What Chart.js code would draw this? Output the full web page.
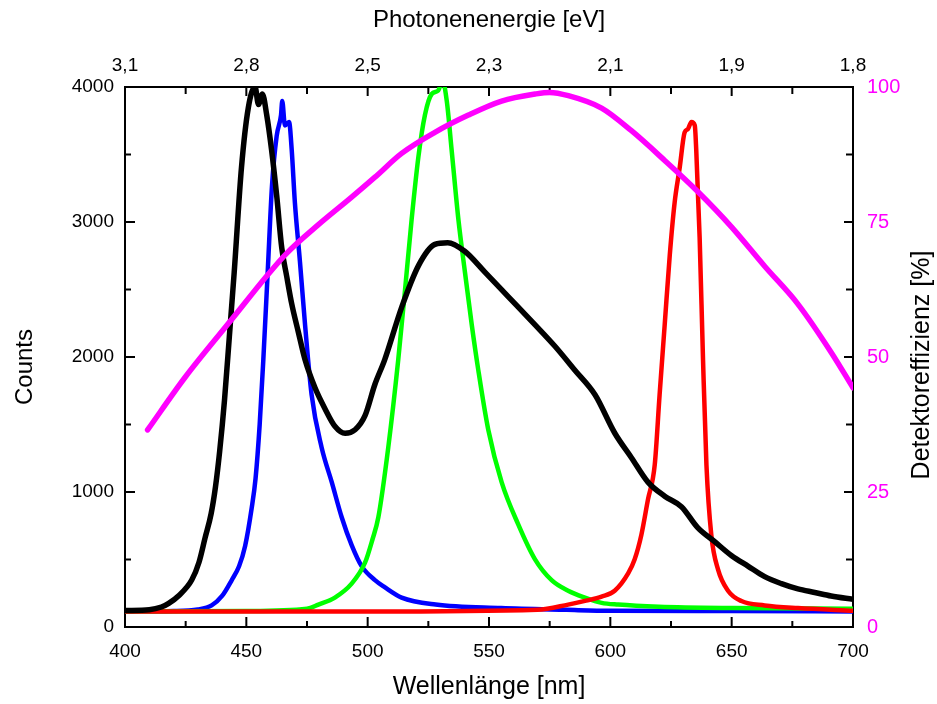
<!DOCTYPE html>
<html>
<head>
<meta charset="utf-8">
<script src="https://cdn.jsdelivr.net/npm/chart.js@4.4.1/dist/chart.umd.min.js"></script>
<style>
  body { margin: 0; background: #fff; }
  #wrap { width: 937px; height: 704px; }
</style>
</head>
<body>
<div id="wrap"><canvas id="specChart" width="937" height="704"></canvas></div>
<script>
// =========================
// DATA
// =========================
const blackNm = [400, 410, 415, 418, 422, 427.5, 430.5, 433, 435.5, 437.3, 439, 441, 443, 445, 448, 450.8, 453.6, 455, 456.6, 458.4, 460.4, 462.5, 464.6, 466.6, 468.7, 471.4, 474.2, 478.3, 482.4, 486.5, 490.7, 494.8, 498.9, 503, 507, 514, 521, 527.7, 533, 540, 548.4, 558, 569, 577, 585.4, 593.7, 601.8, 608.7, 615.5, 622.4, 629.3, 636, 643, 650, 656.7, 663.6, 670.5, 677.3, 684.2, 691, 700];
const blackCounts = [122, 128, 148, 175, 230, 348, 480, 660, 840, 1040, 1300, 1680, 2150, 2627, 3404, 3845, 4000, 3870, 3948, 3793, 3534, 3197, 2808, 2601, 2394, 2187, 1979, 1772, 1617, 1487, 1435, 1461, 1565, 1798, 1979, 2368, 2679, 2834, 2847, 2783, 2627, 2446, 2238, 2083, 1902, 1720, 1437, 1254, 1073, 969, 891, 736, 632, 528, 451, 373, 321, 282, 256, 230, 205];

const blueNm = [400, 420, 430, 435.7, 440, 444, 447, 449.5, 452.2, 453.8, 455.5, 457, 458.8, 460.6, 462.5, 464.3, 464.8, 465.9, 467.6, 468.7, 470, 472.1, 474.2, 476.9, 481, 485.2, 489.3, 493.4, 497.5, 503, 507, 514, 528, 555, 582, 600, 650, 700];
const blueCounts = [115, 118, 130, 160, 230, 348, 450, 600, 880, 1100, 1500, 1979, 2627, 3275, 3637, 3793, 3896, 3715, 3741, 3534, 3145, 2705, 2238, 1720, 1332, 1073, 813, 606, 451, 347, 295, 218, 166, 140, 127, 120, 118, 115];

const greenNm = [400, 450, 475, 479.7, 486.5, 493.4, 498.9, 502, 504.4, 508.5, 512.6, 515.4, 518.1, 520.9, 523.6, 526.4, 529.1, 530.8, 532.6, 534.6, 537.4, 540.1, 542.9, 545.6, 549.7, 555.2, 562, 568.9, 575.8, 582.6, 589.5, 596.4, 603.2, 620, 650, 700];
const greenCounts = [115, 118, 135, 166, 218, 321, 476, 650, 813, 1332, 1979, 2497, 3016, 3482, 3793, 3948, 3974, 4050, 3896, 3534, 3016, 2627, 2238, 1902, 1461, 1073, 762, 503, 347, 269, 218, 179, 166, 150, 140, 135];

const redNm = [400, 500, 570, 582.6, 590, 596.4, 601.8, 607.4, 610, 612.8, 615.5, 618.3, 620.3, 622.4, 624.5, 626.5, 628.6, 630.6, 632, 633.4, 634.8, 635.4, 636.8, 638.2, 639.6, 641.6, 644.4, 648.5, 654, 663.6, 677.3, 700];
const redCounts = [115, 115, 128, 166, 195, 225, 269, 399, 500, 684, 943, 1202, 1720, 2238, 2757, 3145, 3404, 3663, 3689, 3741, 3715, 3534, 2886, 1979, 1202, 684, 425, 269, 192, 160, 140, 120];

const effNm = [409.3, 424.7, 444.6, 458.4, 466.6, 479.7, 493.4, 503, 514, 527.7, 541.5, 555.2, 569, 575, 582.7, 596.4, 608.7, 622.4, 636.1, 649.9, 663.6, 677.3, 691.1, 700];
const effPercent = [36.5, 46.2, 57.3, 65.0, 69.2, 74.5, 79.6, 83.3, 87.7, 91.6, 94.8, 97.4, 98.7, 99.0, 98.4, 96.1, 91.9, 86.4, 80.6, 74.1, 66.8, 59.8, 50.8, 44.3];

// top axis labels (photon energy at every 50 nm)
const energyLabels = ['3,1', '2,8', '2,5', '2,3', '2,1', '1,9', '1,8'];

const FONT = "'Liberation Sans', Arial, sans-serif";
const MAGENTA = '#ff00ff';

function toPoints(xs, ys) {
  return xs.map((x, i) => ({ x: x, y: ys[i] }));
}

// =========================
// INWARD TICKS + VERTICAL TITLES
// =========================
const frameExtras = {
  id: 'frameExtras',
  beforeDatasetsDraw(chart) {
    const ctx = chart.ctx;
    const a = chart.chartArea;
    const sx = chart.scales.x, sy = chart.scales.y, sy2 = chart.scales.y2;
    ctx.save();
    ctx.strokeStyle = '#000';
    ctx.lineWidth = 2;
    ctx.beginPath();
    for (let v = 400; v <= 700; v += 25) {
      const px = sx.getPixelForValue(v);
      const len = v % 50 === 0 ? 10 : 6;
      ctx.moveTo(px, a.bottom); ctx.lineTo(px, a.bottom - len);
      ctx.moveTo(px, a.top); ctx.lineTo(px, a.top + (v % 50 === 0 ? 9 : 7));
    }
    for (let v = 0; v <= 4000; v += 500) {
      const py = sy.getPixelForValue(v);
      const len = v % 1000 === 0 ? 10 : 6;
      ctx.moveTo(a.left, py); ctx.lineTo(a.left + len, py);
    }
    for (let v = 0; v <= 100; v += 12.5) {
      const py = sy2.getPixelForValue(v);
      const len = v % 25 === 0 ? 9 : 7;
      ctx.moveTo(a.right, py); ctx.lineTo(a.right - len, py);
    }
    ctx.stroke();
    ctx.restore();
  },
  afterDraw(chart) {
    const ctx = chart.ctx;
    ctx.save();
    ctx.fillStyle = '#000';
    ctx.font = '24px ' + FONT;
    ctx.textAlign = 'center';
    ctx.textBaseline = 'middle';
    ctx.translate(25, 367);
    ctx.rotate(-Math.PI / 2);
    ctx.fillText('Counts', 0, 0);
    ctx.restore();

    ctx.save();
    ctx.fillStyle = '#000';
    ctx.font = '25px ' + FONT;
    ctx.textAlign = 'center';
    ctx.textBaseline = 'middle';
    ctx.translate(922, 365);
    ctx.rotate(-Math.PI / 2);
    ctx.fillText('Detektoreffizienz [%]', 0, 0);
    ctx.restore();
  }
};

// =========================
// CHART
// =========================
const lineStyle = {
  pointRadius: 0,
  fill: false,
  cubicInterpolationMode: 'monotone',
  borderJoinStyle: 'round',
  borderCapStyle: 'round'
};

const ctx = document.getElementById('specChart').getContext('2d');

new Chart(ctx, {
  type: 'line',
  data: {
    datasets: [
      { ...lineStyle, label: 'Detektoreffizienz', data: toPoints(effNm, effPercent), borderColor: MAGENTA, borderWidth: 5.5, yAxisID: 'y2' },
      { ...lineStyle, label: 'weiss', data: toPoints(blackNm, blackCounts), borderColor: '#000000', borderWidth: 5.5, yAxisID: 'y' },
      { ...lineStyle, label: 'rot', data: toPoints(redNm, redCounts), borderColor: '#ff0000', borderWidth: 4.5, yAxisID: 'y' },
      { ...lineStyle, label: 'gruen', data: toPoints(greenNm, greenCounts), borderColor: '#00ff00', borderWidth: 4.5, yAxisID: 'y' },
      { ...lineStyle, label: 'blau', data: toPoints(blueNm, blueCounts), borderColor: '#0000ff', borderWidth: 4.5, yAxisID: 'y' }
    ]
  },
  options: {
    responsive: false,
    animation: false,
    layout: { padding: 0 },
    plugins: { legend: { display: false }, tooltip: { enabled: false } },
    scales: {
      x: {
        type: 'linear', position: 'bottom', min: 400, max: 700,
        afterFit: s => { s.height = 77; },
        grid: { display: false, drawTicks: false },
        border: { display: true, color: '#000', width: 2 },
        ticks: { stepSize: 50, autoSkip: false, maxRotation: 0, padding: 13, color: '#000', font: { family: FONT, size: 19 } },
        title: { display: true, text: 'Wellenlänge [nm]', color: '#000', font: { family: FONT, size: 25 }, padding: { top: 0, bottom: 2 } }
      },
      x2: {
        type: 'linear', position: 'top', min: 400, max: 700,
        afterFit: s => { s.height = 87; },
        grid: { display: false, drawTicks: false },
        border: { display: true, color: '#000', width: 2 },
        ticks: {
          stepSize: 50, autoSkip: false, maxRotation: 0, padding: 10, color: '#000', font: { family: FONT, size: 19 },
          callback: (value, index) => energyLabels[index]
        },
        title: { display: true, text: 'Photonenenergie [eV]', color: '#000', font: { family: FONT, size: 24 }, padding: { top: 6, bottom: 0 } }
      },
      y: {
        type: 'linear', position: 'left', min: 0, max: 4000,
        afterFit: s => { s.width = 125; },
        grid: { display: false, drawTicks: false },
        border: { display: true, color: '#000', width: 2 },
        ticks: { stepSize: 1000, autoSkip: false, padding: 11, color: '#000', font: { family: FONT, size: 19 }, callback: v => String(v) }
      },
      y2: {
        type: 'linear', position: 'right', min: 0, max: 100,
        afterFit: s => { s.width = 84; },
        grid: { display: false, drawTicks: false },
        border: { display: true, color: '#000', width: 2 },
        ticks: { stepSize: 25, autoSkip: false, padding: 14, color: MAGENTA, font: { family: FONT, size: 20 } }
      }
    }
  },
  plugins: [frameExtras]
});
</script>
</body>
</html>
